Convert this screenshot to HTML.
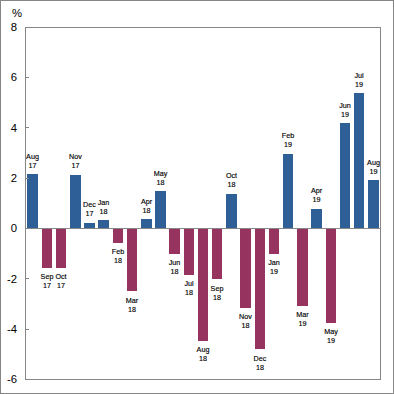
<!DOCTYPE html>
<html><head><meta charset="utf-8"><style>
html,body{margin:0;padding:0;background:#fff;width:394px;height:394px;overflow:hidden}
svg{display:block}
</style></head><body>
<svg width="394" height="394" viewBox="0 0 394 394" shape-rendering="crispEdges">
<rect x="0.5" y="0.5" width="393" height="393" fill="#fff" stroke="#868686" stroke-width="1"/>
<rect x="27" y="174" width="11" height="54" fill="#2f5f97"/>
<rect x="42" y="229" width="10" height="39" fill="#97335f"/>
<rect x="56" y="229" width="10" height="39" fill="#97335f"/>
<rect x="70" y="175" width="11" height="53" fill="#2f5f97"/>
<rect x="84" y="223" width="11" height="5" fill="#2f5f97"/>
<rect x="98" y="220" width="11" height="8" fill="#2f5f97"/>
<rect x="113" y="229" width="10" height="14" fill="#97335f"/>
<rect x="127" y="229" width="10" height="62" fill="#97335f"/>
<rect x="141" y="219" width="11" height="9" fill="#2f5f97"/>
<rect x="155" y="191" width="11" height="37" fill="#2f5f97"/>
<rect x="169" y="229" width="11" height="25" fill="#97335f"/>
<rect x="184" y="229" width="10" height="46" fill="#97335f"/>
<rect x="198" y="229" width="10" height="112" fill="#97335f"/>
<rect x="212" y="229" width="10" height="50" fill="#97335f"/>
<rect x="226" y="194" width="11" height="34" fill="#2f5f97"/>
<rect x="240" y="229" width="11" height="79" fill="#97335f"/>
<rect x="255" y="229" width="10" height="120" fill="#97335f"/>
<rect x="269" y="229" width="10" height="25" fill="#97335f"/>
<rect x="283" y="154" width="10" height="74" fill="#2f5f97"/>
<rect x="297" y="229" width="11" height="77" fill="#97335f"/>
<rect x="311" y="209" width="11" height="19" fill="#2f5f97"/>
<rect x="326" y="229" width="10" height="94" fill="#97335f"/>
<rect x="340" y="123" width="10" height="105" fill="#2f5f97"/>
<rect x="354" y="93" width="10" height="135" fill="#2f5f97"/>
<rect x="368" y="180" width="11" height="48" fill="#2f5f97"/>
<rect x="25" y="228" width="356" height="1" fill="#868686"/>
<rect x="25.5" y="27.5" width="355" height="352" fill="none" stroke="#868686" stroke-width="1"/>
<rect x="26" y="27" width="3" height="1" fill="#868686"/>
<rect x="26" y="77" width="3" height="1" fill="#868686"/>
<rect x="26" y="127" width="3" height="1" fill="#868686"/>
<rect x="26" y="178" width="3" height="1" fill="#868686"/>
<rect x="26" y="228" width="3" height="1" fill="#868686"/>
<rect x="26" y="278" width="3" height="1" fill="#868686"/>
<rect x="26" y="329" width="3" height="1" fill="#868686"/>
<rect x="26" y="379" width="3" height="1" fill="#868686"/>
<defs><clipPath id="pc"><rect x="26" y="28" width="354" height="351"/></clipPath></defs>
<g clip-path="url(#pc)" font-family="Liberation Sans, sans-serif" font-size="7.2" text-anchor="middle" fill="#000" stroke="#000" stroke-width="0.15"><text x="32.5" y="159">Aug</text><text x="32.5" y="168">17</text><text x="47.0" y="279">Sep</text><text x="47.0" y="288">17</text><text x="61.0" y="279">Oct</text><text x="61.0" y="288">17</text><text x="75.5" y="159">Nov</text><text x="75.5" y="168">17</text><text x="89.5" y="207">Dec</text><text x="89.5" y="216">17</text><text x="103.5" y="205">Jan</text><text x="103.5" y="214">18</text><text x="118.0" y="254">Feb</text><text x="118.0" y="263">18</text><text x="132.0" y="303">Mar</text><text x="132.0" y="312">18</text><text x="146.5" y="204">Apr</text><text x="146.5" y="213">18</text><text x="160.5" y="176">May</text><text x="160.5" y="185">18</text><text x="174.5" y="265">Jun</text><text x="174.5" y="274">18</text><text x="189.0" y="286">Jul</text><text x="189.0" y="295">18</text><text x="203.0" y="352">Aug</text><text x="203.0" y="361">18</text><text x="217.0" y="291">Sep</text><text x="217.0" y="300">18</text><text x="231.5" y="178">Oct</text><text x="231.5" y="187">18</text><text x="245.5" y="319">Nov</text><text x="245.5" y="328">18</text><text x="260.0" y="361">Dec</text><text x="260.0" y="370">18</text><text x="274.0" y="265">Jan</text><text x="274.0" y="274">19</text><text x="288.0" y="138">Feb</text><text x="288.0" y="147">19</text><text x="302.5" y="317">Mar</text><text x="302.5" y="326">19</text><text x="316.5" y="193">Apr</text><text x="316.5" y="202">19</text><text x="331.0" y="334">May</text><text x="331.0" y="343">19</text><text x="345.0" y="108">Jun</text><text x="345.0" y="117">19</text><text x="359.0" y="78">Jul</text><text x="359.0" y="87">19</text><text x="373.5" y="165">Aug</text><text x="373.5" y="174">19</text></g>
<g font-family="Liberation Sans, sans-serif" font-size="11.3" text-anchor="end" fill="#000"><text x="17" y="31">8</text><text x="17" y="81">6</text><text x="17" y="132">4</text><text x="17" y="182">2</text><text x="17" y="232">0</text><text x="17" y="283">-2</text><text x="17" y="333">-4</text><text x="17" y="383">-6</text></g>
<text x="12" y="17" font-family="Liberation Sans, sans-serif" font-size="11.3" fill="#000">%</text>
</svg>
</body></html>
